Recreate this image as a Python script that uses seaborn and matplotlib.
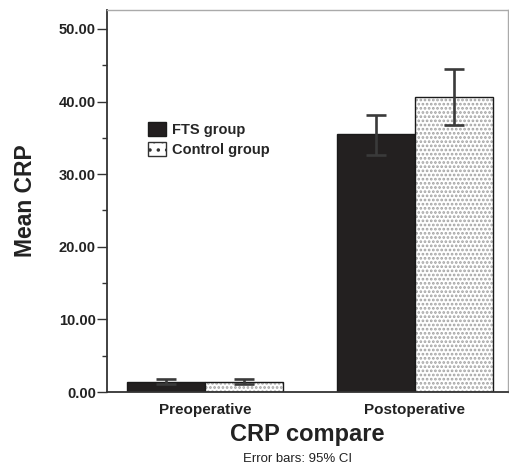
import matplotlib
matplotlib.use("Agg")
import matplotlib.pyplot as plt
import seaborn as sns
import pandas as pd
import numpy as np
from matplotlib.patches import Patch
from matplotlib.colors import to_rgba

# ---- data ----
periods = ["Preoperative", "Postoperative"]
groups = ["FTS group", "Control group"]
fts_mean = [1.4, 35.5]
fts_low = [1.1, 32.6]
fts_high = [1.8, 38.2]
ctrl_mean = [1.4, 40.6]
ctrl_low = [1.1, 36.8]
ctrl_high = [1.8, 44.5]
yticks = [0, 10, 20, 30, 40, 50]

df = pd.DataFrame({
    "period": periods * 2,
    "group": [groups[0]] * 2 + [groups[1]] * 2,
    "mean": fts_mean + ctrl_mean,
})
lows = [fts_low, ctrl_low]
highs = [fts_high, ctrl_high]
means = [fts_mean, ctrl_mean]

sns.set_style("white")
plt.rcParams["font.family"] = ["Liberation Sans", "DejaVu Sans"]
plt.rcParams["hatch.linewidth"] = 1.3

fig = plt.figure(figsize=(5.10, 4.66), dpi=100)
ax = fig.add_axes([107 / 510, (466 - 392) / 466, (508 - 107) / 510, (392 - 10) / 466])

sns.barplot(data=df, x="period", y="mean", hue="group", order=periods,
            hue_order=groups, palette=["#231f20", "white"], width=0.745,
            errorbar=None, edgecolor="#1a1a1a", linewidth=1.0,
            legend=False, ax=ax)

bar_conts = list(ax.containers)
for i, cont in enumerate(bar_conts):
    for j, bar in enumerate(cont.patches):
        if i == 1:
            bar.set_hatch("....")
            bar._hatch_color = to_rgba("#a3a3a3")
        xc = bar.get_x() + bar.get_width() / 2
        m = means[i][j]
        ax.errorbar([xc], [m], yerr=[[m - lows[i][j]], [highs[i][j] - m]],
                    fmt="none", ecolor="#3a3a3a", elinewidth=1.9,
                    capsize=7.2, capthick=1.9, zorder=5)

ax.set_xlim(-0.468, 1.446)
ax.set_ylim(0, 52.6)
ax.set_yticks(yticks)
ax.set_yticks(np.arange(5, 50, 10), minor=True)
ax.set_yticklabels([f"{v:.2f}" for v in yticks], fontsize=10.5,
                   fontweight="bold", color="#222222")
ax.tick_params(axis="y", which="major", direction="out", length=7,
               width=1.0, color="#333333", pad=1, left=True)
ax.tick_params(axis="y", which="minor", direction="out", length=3.5,
               width=1.0, color="#333333", left=True)
ax.tick_params(axis="x", length=0, pad=8)
for lab in ax.get_xticklabels():
    lab.set_fontsize(11)
    lab.set_fontweight("bold")
    lab.set_color("#222222")

for side in ["left", "bottom"]:
    ax.spines[side].set_color("#333333")
    ax.spines[side].set_linewidth(1.3)
for side in ["top", "right"]:
    ax.spines[side].set_color("#aaaaaa")
    ax.spines[side].set_linewidth(1.0)

ax.set_ylabel("Mean CRP", fontsize=16.5, fontweight="bold", color="#222222",
              labelpad=16)
ax.set_xlabel("CRP compare", fontsize=17, fontweight="bold", color="#222222",
              labelpad=4)

handles = [
    Patch(facecolor="#231f20", edgecolor="#1a1a1a", label=groups[0]),
    Patch(facecolor="white", edgecolor="#333333", hatch="..", label=groups[1]),
]
leg = ax.legend(handles=handles, loc="upper left",
                bbox_to_anchor=(0.087, 0.7225), frameon=False,
                prop={"family": ["Liberation Sans"], "weight": "bold", "size": 10.5},
                handlelength=1.25, handleheight=1.1, handletextpad=0.4,
                labelspacing=0.35, borderaxespad=0)

fig.text(298 / 510, 1 - 459 / 466, "Error bars: 95% CI", ha="center",
         va="center", fontsize=9.5, color="#222222")

fig.savefig("out.png", dpi=100)
